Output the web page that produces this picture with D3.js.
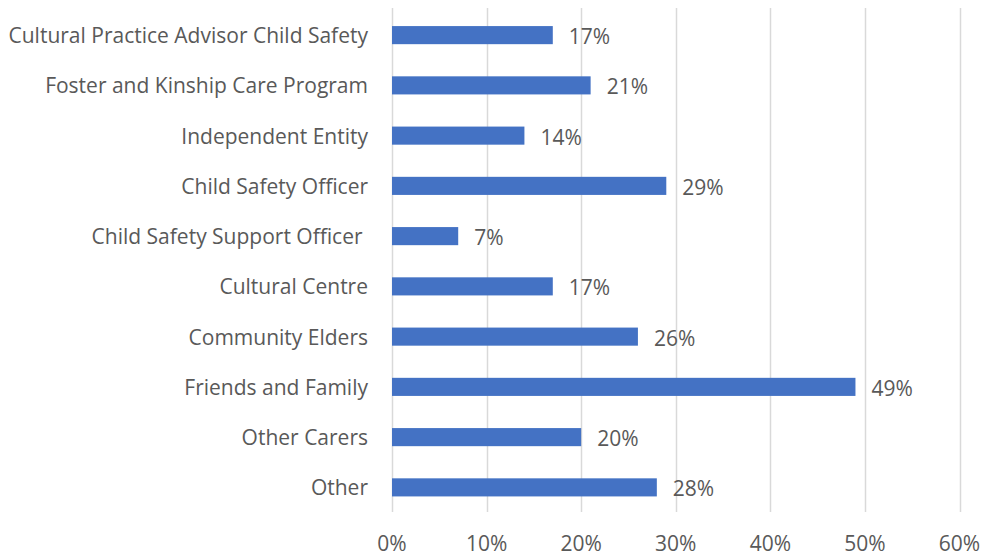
<!DOCTYPE html>
<html><head><meta charset="utf-8">
<script src="https://cdn.jsdelivr.net/npm/d3@7"></script>
<style>body{margin:0;background:#fff}svg{display:block}text{font-family:"Open Sans",Lato,sans-serif;fill:#595959;white-space:pre}</style>
</head><body><svg id="c" width="984" height="556"></svg>
<script>
const categories = ["Cultural Practice Advisor Child Safety","Foster and Kinship Care Program","Independent Entity","Child Safety Officer","Child Safety Support Officer ","Cultural Centre","Community Elders","Friends and Family","Other Carers","Other"];
const values = [0.17,0.21,0.14,0.29,0.07,0.17,0.26,0.49,0.20,0.28];
const ticks = [0,0.1,0.2,0.3,0.4,0.5,0.6];

(function(){
const svg = d3.select("#c");
const mL = 392, mR = 959.5, gT = 8, gB = 512;
const x = d3.scaleLinear().domain([0,0.6]).range([mL,mR]);
const y = d3.scaleBand().domain(categories).range([10,512.5]).paddingInner(0.64).paddingOuter(0.32);

svg.append("g").selectAll("line").data(ticks).join("line")
  .attr("x1",d=>Math.round(x(d))+0.5).attr("x2",d=>Math.round(x(d))+0.5)
  .attr("y1",gT).attr("y2",gB)
  .attr("stroke","#d9d9d9").attr("stroke-width",1.5);

svg.append("g").selectAll("text").data(ticks).join("text")
  .attr("x",d=>x(d)).attr("y",551).attr("text-anchor","middle")
  .attr("font-size",21).text(d3.format(".0%"));

svg.append("g").selectAll("rect").data(values).join("rect")
  .attr("x",x(0)).attr("y",(d,i)=>y(categories[i]))
  .attr("width",d=>x(d)-x(0)).attr("height",y.bandwidth())
  .attr("fill","#4472c4");

svg.append("g").selectAll("text").data(values).join("text")
  .attr("x",d=>x(d)+16).attr("y",(d,i)=>y(categories[i])+y.bandwidth()/2+9)
  .attr("font-size",21).text(d3.format(".0%"));

svg.append("g").selectAll("text").data(categories).join("text")
  .attr("x",368).attr("y",c=>y(c)+y.bandwidth()/2+8)
  .attr("text-anchor","end").attr("font-size",21).text(c=>c);
})();
</script></body></html>
